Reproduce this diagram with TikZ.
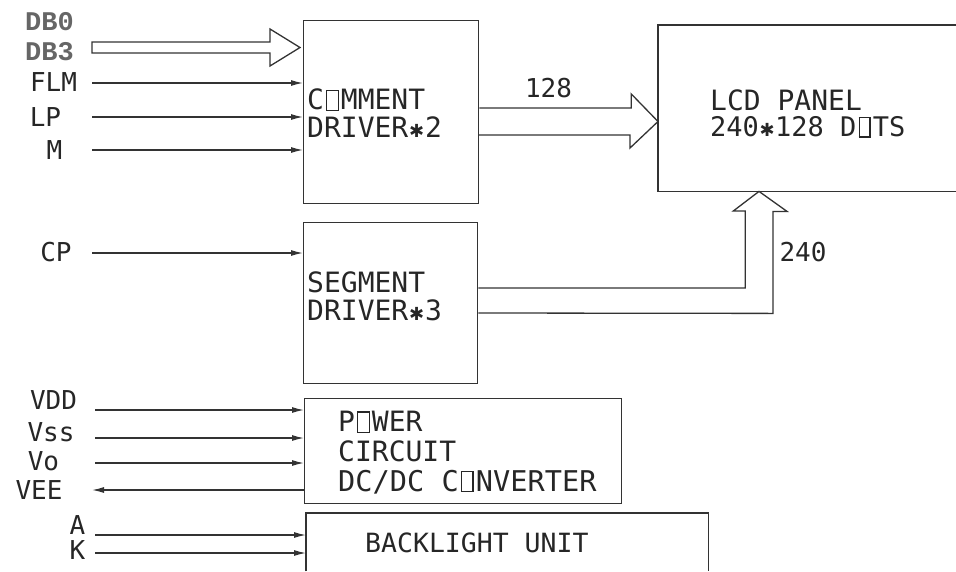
\documentclass[tikz,border=0pt]{standalone}
\usepackage{fontspec}
\setmonofont{DejaVu Sans Mono}
\newfontfamily\dbfont{Liberation Mono}
\newfontfamily\dvsfont{DejaVu Sans}
\newcommand\starx{\makebox[0.602em]{\dvsfont\fontsize{18}{18}\selectfont ✱}}
\newcommand\sqo{\makebox[0.602em]{\setlength\fboxsep{0pt}\setlength\fboxrule{1.2pt}\fbox{\rule{0pt}{0.68em}\hspace{0.36em}}}}
\usetikzlibrary{arrows.meta,calc}
\begin{document}
\begin{tikzpicture}[x=1pt,y=-1pt,
  lw/.style={line width=1.3pt, draw=black!80, line join=miter},
  box/.style={lw, rectangle, inner sep=0pt, anchor=north west},
  ghost/.style={rectangle, inner sep=0pt, anchor=north west},
  txt/.style={font=\fontsize{26}{26}\selectfont\ttfamily, inner sep=0pt, text=black!85},
  btxt/.style={txt, anchor=west, font=\fontsize{28}{28}\selectfont\ttfamily},
  dbl/.style={font=\fontsize{27}{27}\selectfont\dbfont\bfseries, inner sep=0pt, text=black!60},
  sig/.style={lw, -{Latex[length=12pt,width=6pt]}},
]
\useasboundingbox (0,0) rectangle (956,571);

% boxes
\node[box, minimum width=175pt, minimum height=183pt] (cd) at (303,20) {};
\node[box, minimum width=174pt, minimum height=161pt] (sd) at (303,222) {};
\node[box, minimum width=317pt, minimum height=105pt] (pw) at (304,398) {};
\node[ghost, minimum width=298pt, minimum height=166pt] (lcd) at (658,25) {};
\node[ghost, minimum width=402pt, minimum height=58pt] (bl) at (306,513) {};
\draw[lw] (lcd.north east) -- (lcd.north west) -- (lcd.south west) -- (lcd.south east);
\draw[lw] (bl.south west) -- (bl.north west) -- (bl.north east) -- (bl.south east);

% box texts
\node[btxt] (cdt1) at (307,100) {C\sqo MMENT};
\node[btxt] (cdt2) at (307,127) {DRIVER\starx 2};
\node[btxt] (sdt1) at (307,282) {SEGMENT};
\node[btxt] (sdt2) at (307,310) {DRIVER\starx 3};
\node[btxt] (lct1) at (710,100) {LCD PANEL};
\node[btxt, font=\fontsize{27}{27}\selectfont\ttfamily] (lct2) at (710,127) {240\starx 128 D\sqo TS};
\node[btxt] (pwt1) at (338,422) {P\sqo WER};
\node[btxt] (pwt2) at (338,451) {CIRCUIT};
\node[btxt, font=\fontsize{28.6}{28.6}\selectfont\ttfamily] (pwt3) at (338,482) {DC/DC C\sqo NVERTER};
\node[btxt, font=\fontsize{26.5}{26.5}\selectfont\ttfamily] (blt) at (365,543) {BACKLIGHT UNIT};

% left labels
\node[dbl] (db0) at (49.5,22) {DB0};
\node[dbl] (db3) at (49.5,52) {DB3};
\node[txt] (flm) at (53.5,82) {FLM};
\node[txt] (lp) at (45.5,117) {LP};
\node[txt] (m) at (54.5,150) {M};
\node[txt] (cp) at (56,252) {CP};
\node[txt] (vdd) at (53.5,400) {VDD};
\node[txt] (vss) at (51,432) {Vss};
\node[txt] (vo) at (43.5,461) {Vo};
\node[txt] (vee) at (39,490) {VEE};
\node[txt] (la) at (77.5,525) {A};
\node[txt] (lk) at (77.5,550) {K};
\node[txt] (n128) at (548.5,88) {128};
\node[txt] (n240) at (803,252) {240};

% line start coordinates
\coordinate (dbS) at (92,47.5);
\coordinate (flmS) at (92,83);
\coordinate (lpS) at (92,117);
\coordinate (mS) at (92,150);
\coordinate (cpS) at (92,253);
\coordinate (vddS) at (95,410);
\coordinate (vssS) at (95,438);
\coordinate (voS) at (95,463);
\coordinate (veeE) at (92,490);
\coordinate (aS) at (95,535);
\coordinate (kS) at (95,553);

% hollow bus arrow DB0-DB3
\draw[lw] (dbS) ++(0,-5.5) -- ++(178,0) -- ++(0,-13) -- ([xshift=-3pt]cd.west |- dbS)
  -- ++(-30,18.5) -- ++(0,-13) -- ++(-178,0) -- cycle;

% signal lines
\draw[sig] (flmS) -- (flmS -| cd.west);
\draw[sig] (lpS) -- (lpS -| cd.west);
\draw[sig] (mS) -- (mS -| cd.west);
\draw[sig] (cpS) -- (cpS -| sd.west);
\draw[sig] (vddS) -- (vddS -| pw.west);
\draw[sig] (vssS) -- (vssS -| pw.west);
\draw[sig] (voS) -- (voS -| pw.west);
\draw[sig] (veeE -| pw.west) -- (veeE);
\draw[sig] (aS) -- (aS -| bl.west);
\draw[sig] (kS) -- (kS -| bl.west);

% 128 bus to LCD
\coordinate (c128) at (cd.east |- 0,121.5);
\draw[lw] (c128) ++(0,-13.5) -- ++(152,0) -- ++(0,-14) -- (lcd.west |- c128)
  -- ++(-28,26.5) -- ++(0,-13) -- ++(-152,0);

% 240 bus to LCD
\coordinate (s240) at (sd.east |- 0,288);
\draw[lw] (s240) -- ++(267,0) -- ++(0,-77) -- ++(-12,0) -- (759,0 |- lcd.south)
  -- ++(28,20) -- ++(-14,0) -- ++(0,102) -- (sd.east |- 0,313);
\end{tikzpicture}
\end{document}
